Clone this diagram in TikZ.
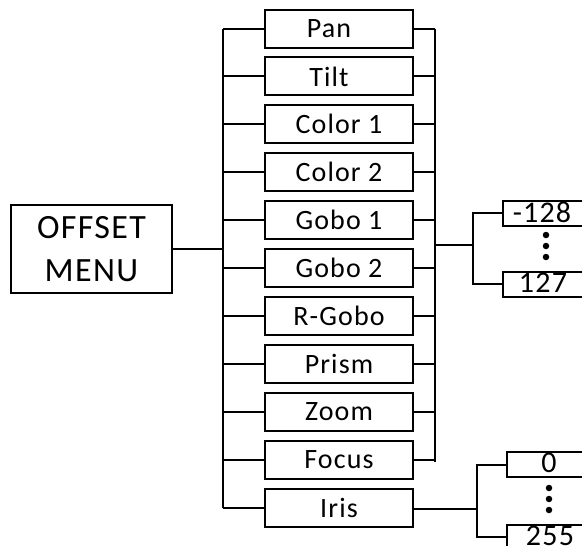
\documentclass[tikz,border=0pt]{standalone}
\usepackage{fontspec}
\setmainfont{Carlito}[LetterSpace=4]
\begin{document}
\begin{tikzpicture}[x=1pt,y=-1pt,line width=2pt,
  itembox/.style={draw,minimum width=148pt,minimum height=38pt,inner sep=0pt,font=\fontsize{28}{30}\selectfont},
  menubox/.style={draw,minimum width=161pt,minimum height=88pt,inner sep=0pt,align=center,font=\fontsize{34}{43}\selectfont},
  valbox/.style={draw,minimum width=100pt,minimum height=25pt,inner sep=0pt,anchor=west},
  valtext/.style={font=\fontsize{30}{30}\selectfont},
  wire/.style={line width=2pt},
  dot/.style={circle,fill,inner sep=0pt,minimum size=6.5pt}]
\useasboundingbox (0,0) rectangle (582,546);
\clip (0,0) rectangle (582,546);
% menu
\node[menubox] (menu) at (91.5,249) {OFFSET\\MENU};
% items
\foreach \name/\txt [count=\i from 0] in {pan/Pan\hspace*{20pt},tilt/Tilt\hspace*{20pt},col1/Color 1,col2/Color 2,gobo1/Gobo 1,gobo2/Gobo 2,rgobo/R-Gobo,prism/Prism,zoom/Zoom,focus/Focus,iris/Iris}{
  \node[itembox] (\name) at (339,28.5+47.9*\i) {\txt};
}
% left bus
\coordinate (lbt) at (223,28.5);
\coordinate (lbb) at (223,507.5);
\draw[wire] (lbt) -- (lbb);
\draw[wire] (menu.east) -- (menu.east -| lbt);
\foreach \name in {pan,tilt,col1,col2,gobo1,gobo2,rgobo,prism,zoom,focus,iris}{
  \draw[wire] (\name.west -| lbt) -- (\name.west);
}
% right bus
\coordinate (rbt) at (435,28.5);
\coordinate (rbb) at (435,461.5);
\draw[wire] (rbt) -- (rbb);
\foreach \name in {pan,tilt,col1,col2,gobo1,gobo2,rgobo,prism,zoom,focus}{
  \draw[wire] (\name.east) -- (\name.east -| rbt);
}
% offset values
\node[valbox] (vmin) at (502,213) {};
\node[valtext] (vmintxt) at (542,212) {-128};
\node[valbox] (vmax) at (502,284) {};
\node[valtext] (vmaxtxt) at (543,283) {127};
\coordinate (b2) at (473,245);
\draw[wire] (435,245) -- (b2);
\draw[wire] (vmin.west) -| (b2) |- (vmax.west);
\node[dot] (d1) at (546,235) {};
\node[dot] (d2) at (546,246) {};
\node[dot] (d3) at (546,257) {};
% iris values
\node[valbox] (imin) at (506,464.5) {};
\node[valtext] (imintxt) at (549,463) {0};
\node[valbox] (imax) at (506,537) {};
\node[valtext] (imaxtxt) at (550,536) {255};
\coordinate (b3) at (477,509);
\draw[wire] (iris.east |- b3) -- (b3);
\draw[wire] (imin.west) -| (b3) |- (imax.west);
\node[dot] (e1) at (549,488) {};
\node[dot] (e2) at (549,499) {};
\node[dot] (e3) at (549,510) {};
\end{tikzpicture}
\end{document}
